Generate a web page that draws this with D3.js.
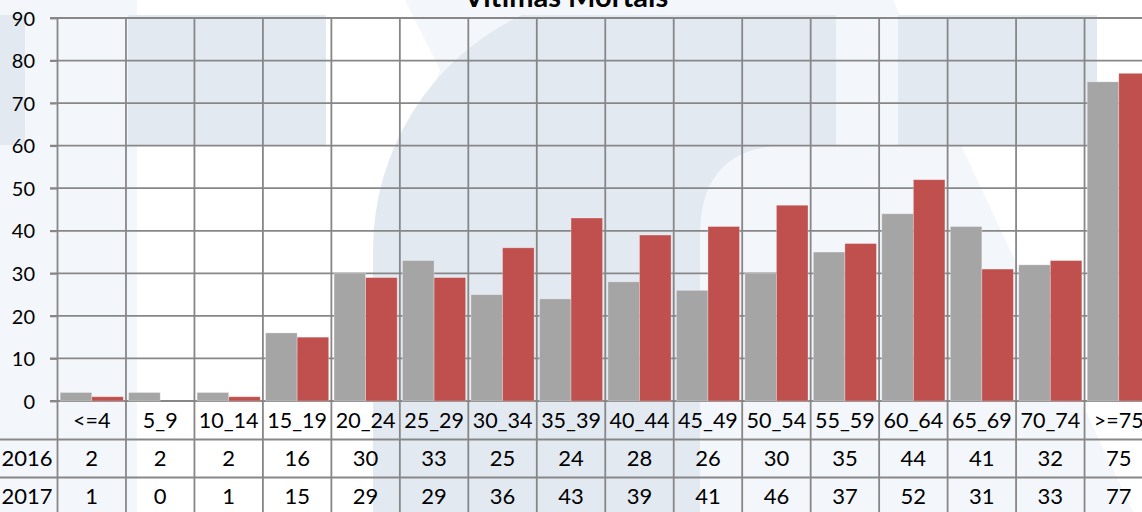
<!DOCTYPE html>
<html>
<head>
<meta charset="utf-8">
<script src="https://cdn.jsdelivr.net/npm/d3@7"></script>
<style>
  html, body { margin: 0; padding: 0; background: #fff; overflow: hidden; }
  text { font-family: Lato, "Open Sans", sans-serif; fill: #000; }
</style>
</head>
<body>
<div id="chart"></div>
<script>
const categories = ['<=4', '5_9', '10_14', '15_19', '20_24', '25_29', '30_34', '35_39',
    '40_44', '45_49', '50_54', '55_59', '60_64', '65_69', '70_74', '>=75']
const years = ['2016', '2017']
const values2016 = [2, 2, 2, 16, 30, 33, 25, 24, 28, 26, 30, 35, 44, 41, 32, 75]
const values2017 = [1, 0, 1, 15, 29, 29, 36, 43, 39, 41, 46, 37, 52, 31, 33, 77]
const yTicks = [0, 10, 20, 30, 40, 50, 60, 70, 80, 90]
const chartTitle = 'Vítimas Mortais'

const width = 1142
const height = 512
const colors = ['#a5a5a5', '#c0504d']
const gridColor = '#878787'

const svg = d3.select('#chart')
    .append('svg')
    .attr('width', width)
    .attr('height', height)

// faint logo watermark behind the chart
const bg = svg.append('g').attr('class', 'watermark')
const light = '#f3f6fa'
const dark = '#e3e9f0'
bg.append('rect').attr('x', 0).attr('y', 0).attr('width', 137).attr('height', height).attr('fill', light)
bg.append('path')
    .attr('d', 'M405,0 L893,0 L1133,512 L373,512 L373,250 L440,70 Z')
    .attr('fill', light)
bg.append('rect').attr('x', 0).attr('y', 15).attr('width', 25).attr('height', 130).attr('fill', dark)
bg.append('rect').attr('x', 128).attr('y', 15).attr('width', 198).attr('height', 130).attr('fill', dark)
bg.append('rect').attr('x', 898).attr('y', 15).attr('width', 199).attr('height', 130).attr('fill', dark)
bg.append('path')
    .attr('d', 'M373,512 L373,250 A260,260 0 0 1 521.7,15 L836,15 L836,145 L790,145 Q700,145 700,235 L700,512 Z')
    .attr('fill', dark)

const plotLeft = 57.5
const bandWidth = 68.47
const plotTop = 18
const zeroY = 401
const rowH = 38

const x = d3.scaleBand()
    .domain(categories)
    .range([plotLeft, plotLeft + bandWidth * categories.length])
    .padding(0)

const y = d3.scaleLinear()
    .domain([0, 90])
    .range([zeroY, plotTop])

const series = d3.scaleBand()
    .domain(years)
    .range([0, x.bandwidth()])
    .paddingInner(0)
    .paddingOuter(0.085)

const rows = years.map((yr, i) => ({
    year: yr,
    values: i === 0 ? values2016 : values2017
}))

// horizontal gridlines
svg.append('g')
    .selectAll('line')
    .data(yTicks)
    .join('line')
    .attr('x1', 50)
    .attr('x2', width)
    .attr('y1', d => y(d))
    .attr('y2', d => y(d))
    .attr('stroke', gridColor)
    .attr('stroke-width', 1.8)

// bars
const barGroups = svg.append('g')
    .selectAll('g')
    .data(rows)
    .join('g')
    .attr('fill', (d, i) => colors[i])

barGroups.selectAll('rect')
    .data(d => d.values.map((v, i) => ({ year: d.year, cat: categories[i], value: v })))
    .join('rect')
    .attr('x', d => x(d.cat) + series(d.year))
    .attr('width', series.bandwidth())
    .attr('y', d => y(d.value))
    .attr('height', d => zeroY - y(d.value))
    .attr('stroke', '#fff')
    .attr('stroke-opacity', 0.35)
    .attr('stroke-width', 0.8)

// table row lines
svg.append('g')
    .selectAll('line')
    .data([1, 2])
    .join('line')
    .attr('x1', 0)
    .attr('x2', width)
    .attr('y1', d => zeroY + rowH * d + 0.5)
    .attr('y2', d => zeroY + rowH * d + 0.5)
    .attr('stroke', gridColor)
    .attr('stroke-width', 1.8)

// vertical lines through plot and table
const vLines = categories.map(c => x(c)).concat([x.range()[1]])
svg.append('g')
    .selectAll('line')
    .data(vLines)
    .join('line')
    .attr('x1', d => d)
    .attr('x2', d => d)
    .attr('y1', plotTop)
    .attr('y2', height)
    .attr('stroke', gridColor)
    .attr('stroke-width', 1.8)

// y axis
const yAxis = svg.append('g')
    .attr('transform', `translate(${plotLeft},0)`)
    .call(d3.axisLeft(y).tickValues(yTicks).tickSize(7.5).tickPadding(15))
yAxis.select('.domain').remove()
yAxis.selectAll('.tick line').attr('stroke', gridColor).attr('stroke-width', 1.8)
yAxis.selectAll('.tick text')
    .attr('font-size', 20)
    .attr('font-family', 'Lato, sans-serif')
    .attr('fill', '#000')
    .attr('dy', '0.36em')

// category labels
svg.append('g')
    .selectAll('text')
    .data(categories)
    .join('text')
    .attr('x', d => x(d) + x.bandwidth() / 2)
    .attr('y', 428)
    .attr('text-anchor', 'middle')
    .attr('font-size', 21.5)
    .text(d => d)

// value rows
const tableRows = svg.append('g')
    .selectAll('g')
    .data(rows)
    .join('g')
    .attr('transform', (d, i) => `translate(0,${466 + i * 38})`)

tableRows.append('text')
    .attr('x', 27)
    .attr('text-anchor', 'middle')
    .attr('font-size', 22)
    .text(d => d.year)

tableRows.selectAll('.val')
    .data(d => d.values.map((v, i) => ({ cat: categories[i], value: v })))
    .join('text')
    .attr('class', 'val')
    .attr('x', d => x(d.cat) + x.bandwidth() / 2)
    .attr('text-anchor', 'middle')
    .attr('font-size', 22)
    .text(d => d.value)

// title, mostly cut off at the top edge as in the source
svg.append('text')
    .attr('x', 566)
    .attr('y', 7)
    .attr('text-anchor', 'middle')
    .attr('font-size', 29)
    .attr('font-weight', 'bold')
    .text(chartTitle)
</script>
</body>
</html>
